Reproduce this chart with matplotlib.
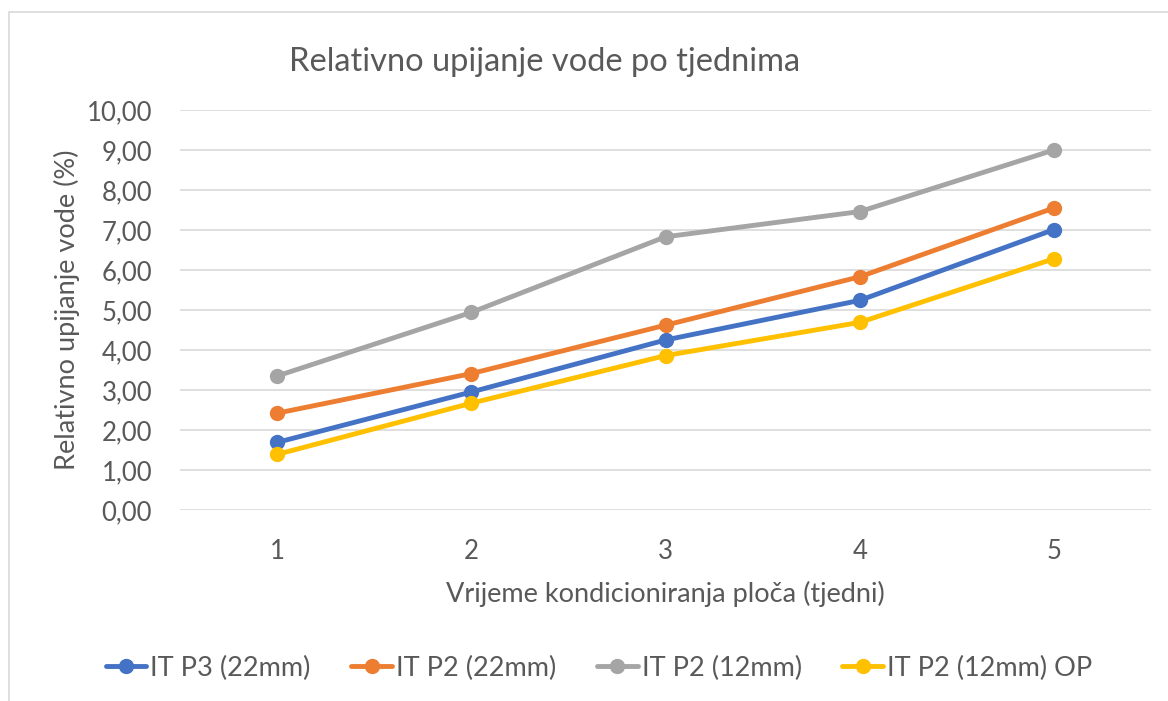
import matplotlib.pyplot as plt
from matplotlib.patches import Rectangle

plt.rcParams['font.family'] = ['Lato', 'DejaVu Sans']

tjedni = [1, 2, 3, 4, 5]
it_p3_22 = [1.69, 2.95, 4.25, 5.24, 7.01]
it_p2_22 = [2.42, 3.41, 4.62, 5.83, 7.55]
it_p2_12 = [3.35, 4.94, 6.83, 7.46, 9.00]
it_p2_12_op = [1.39, 2.67, 3.86, 4.69, 6.28]

serije = [
    ("IT P3 (22mm)", it_p3_22, "#4472C4"),
    ("IT P2 (22mm)", it_p2_22, "#ED7D31"),
    ("IT P2 (12mm)", it_p2_12, "#A5A5A5"),
    ("IT P2 (12mm) OP", it_p2_12_op, "#FFC000"),
]

W, H = 1168, 701
fig = plt.figure(figsize=(W / 100, H / 100), dpi=100)
# okvir grafikona
fig.patches.append(Rectangle((9 / W, -0.1), 1.2, 1 - 12 / H + 0.1, transform=fig.transFigure,
                             fill=False, edgecolor="#D9D9D9", linewidth=1.2))

ax = fig.add_axes([180 / W, 1 - 510 / H, (1151 - 180) / W, 400 / H])

for ime, y, boja in serije:
    ax.plot(tjedni, y, color=boja, linewidth=3.5, marker='o', markersize=10,
            label=ime, solid_capstyle='round')

ax.set_xlim(0.5, 5.5)
ax.set_ylim(0, 10)
ax.set_yticks(range(0, 11))
ax.set_yticklabels([f"{v},00" for v in range(0, 11)])
ax.set_xticks(tjedni)
ax.grid(axis='y', color="#D9D9D9", linewidth=1.2)
ax.set_axisbelow(True)
for s in ax.spines.values():
    s.set_visible(False)
ax.tick_params(length=0, labelsize=18.5, colors="#595959", pad=20)
ax.tick_params(axis='x', pad=21)

ax.set_ylabel("Relativno upijanje vode (%)", fontsize=19.5, color="#595959", labelpad=5)
ax.set_xlabel("Vrijeme kondicioniranja ploča (tjedni)", fontsize=19.5, color="#595959", labelpad=12)
fig.text(545 / W, 1 - 62 / H, "Relativno upijanje vode po tjednima", fontsize=23.5,
         color="#595959", ha='center', va='center')

fig.legend(loc='center', bbox_to_anchor=(599 / W, 1 - 668 / H), ncol=4, frameon=False,
           fontsize=19.5, labelcolor="#595959", handlelength=1.5, handletextpad=0.15,
           columnspacing=1.5)

fig.savefig("out.png", dpi=100)
